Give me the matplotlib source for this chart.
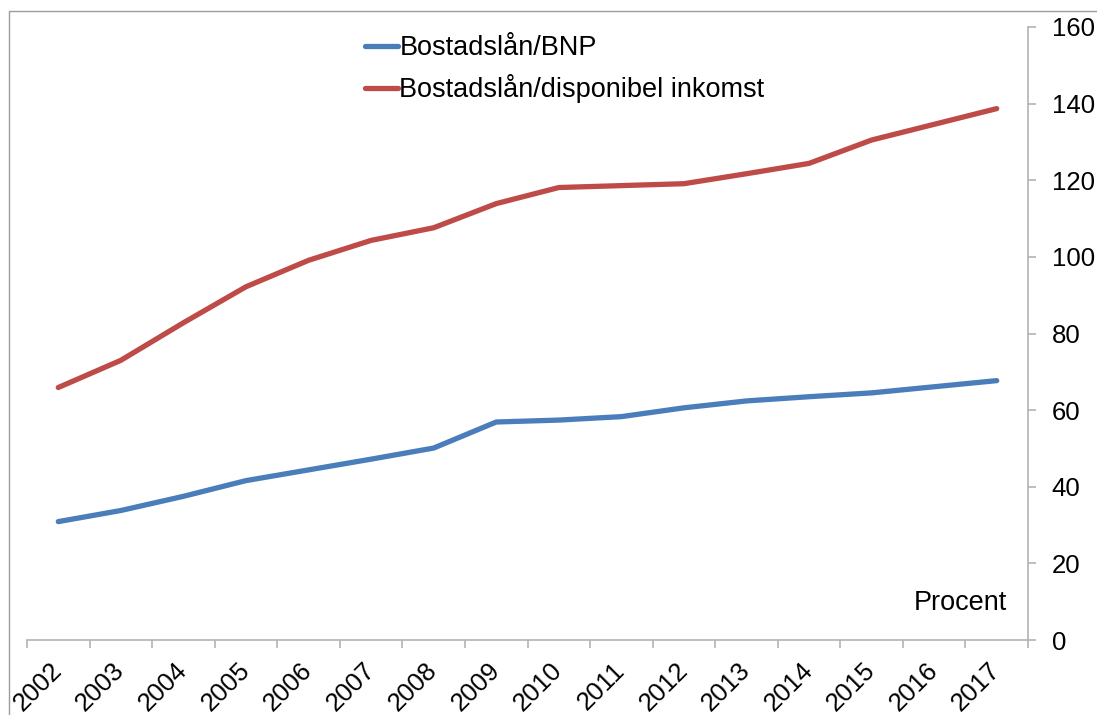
import numpy as np
import matplotlib
matplotlib.use('Agg')
import matplotlib.pyplot as plt
from matplotlib.patches import Rectangle

# Data (procent)
years = ['2002', '2003', '2004', '2005', '2006', '2007', '2008', '2009',
         '2010', '2011', '2012', '2013', '2014', '2015', '2016', '2017']
bnp = [30.9, 33.8, 37.5, 41.6, 44.4, 47.2, 50.1, 56.9,
       57.4, 58.3, 60.6, 62.4, 63.5, 64.5, 66.1, 67.7]
disp_inkomst = [65.9, 73.0, 82.8, 92.2, 99.1, 104.3, 107.6, 113.9,
                118.1, 118.6, 119.1, 121.7, 124.4, 130.5, 134.6, 138.7]
yticks = [0, 20, 40, 60, 80, 100, 120, 140, 160]

plt.rcParams['font.family'] = ['Liberation Sans', 'DejaVu Sans']
grey = '#B3B3B3'

fig = plt.figure(figsize=(10.97, 7.15), dpi=100)
ax = fig.add_axes([27 / 1097, 75 / 715, 1001 / 1097, 613 / 715])

x = np.arange(len(years))
ax.plot(x, bnp, color='#4A7EBB', lw=3.8, solid_capstyle='round', label='Bostadslån/BNP')
ax.plot(x, disp_inkomst, color='#BE4B48', lw=3.8, solid_capstyle='round',
        label='Bostadslån/disponibel inkomst')

ax.set_xlim(-0.5, len(years) - 0.5)
ax.set_ylim(0, 160)

# y axis on the right
ax.yaxis.tick_right()
ax.set_yticks(yticks)
ax.tick_params(axis='y', which='major', direction='out', length=6, width=1.2,
               color=grey, labelsize=18.5, pad=11)

# x axis: tick marks between categories, labels at the centres
ax.set_xticks(np.arange(-0.5, len(years), 1.0))
ax.set_xticklabels([])
ax.tick_params(axis='x', which='major', direction='out', length=6, width=1.2, color=grey)
ax.set_xticks(x, minor=True)
ax.set_xticklabels(years, minor=True, rotation=45, ha='right', va='center',
                   rotation_mode='anchor', fontsize=18.5)
ax.tick_params(axis='x', which='minor', length=0, pad=19)

for s in ['top', 'left']:
    ax.spines[s].set_visible(False)
for s in ['right', 'bottom']:
    ax.spines[s].set_color(grey)
    ax.spines[s].set_linewidth(1.2)

ax.text(0.979, 0.06, 'Procent', transform=ax.transAxes, ha='right', va='center', fontsize=19.5)

leg = ax.legend(loc='upper left', bbox_to_anchor=(365 / 1097, 680 / 715),
                bbox_transform=fig.transFigure, frameon=False, fontsize=19.5,
                handlelength=1.22, handletextpad=0.05, labelspacing=0.48,
                borderaxespad=0, borderpad=0)

# thin chart-area border like in the original
fig.patches.append(Rectangle((9 / 1097, -0.1), 1.2, (704 / 715) + 0.1,
                             transform=fig.transFigure, fill=False,
                             edgecolor='#9C9C9C', lw=1.0))

plt.savefig('out.png', dpi=100)
